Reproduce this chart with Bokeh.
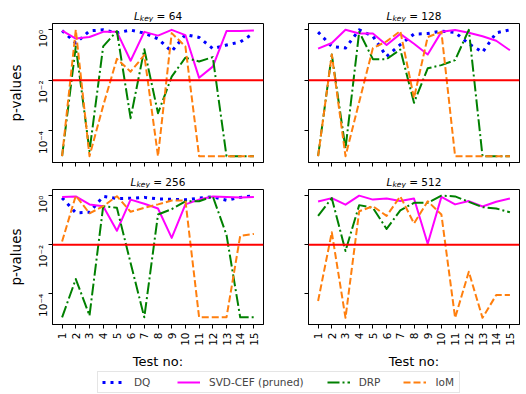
import math
from bokeh.plotting import figure
from bokeh.models import (FixedTicker, CustomJSTickFormatter, Span, Label, Legend,
                          LegendItem, ColumnDataSource, Range1d)
from bokeh.layouts import column, row
from bokeh.embed import file_html
from bokeh.resources import INLINE

tests = list(range(1, 16))
key_lengths = [64, 128, 256, 512]
threshold = 0.01
y_ticks = [1e-4, 1e-2, 1.0]

# ---- L_key = 64 ----
dq_64 = [0.93, 0.30, 0.91, 1.0, 0.76, 0.98, 0.74, 0.44, 0.14, 0.65, 0.50, 0.18, 0.25, 0.33, 0.74]
svd_64 = [0.93, 0.45, 0.52, 0.83, 0.83, 0.06, 0.83, 0.59, 1.0, 0.62, 0.0126, 0.035, 0.89, 0.89, 0.93]
drp_64 = [1e-5, 0.22, 1.6e-5, 0.22, 0.89, 3.2e-4, 0.17, 5e-4, 0.014, 0.079, 0.056, 0.083, 1e-5, 1e-5, 1e-5]
iom_64 = [1e-5, 1.0, 1e-5, 1e-3, 0.071, 0.022, 0.1, 1e-5, 0.74, 0.22, 1e-5, 1e-5, 1e-5, 1e-5, 1e-5]

# ---- L_key = 128 ----
dq_128 = [0.81, 0.22, 0.19, 1.0, 0.56, 0.089, 0.26, 0.68, 0.71, 0.89, 0.79, 0.28, 0.13, 0.76, 1.0]
svd_128 = [0.18, 0.30, 1.0, 0.71, 0.71, 0.25, 0.69, 0.28, 0.105, 0.83, 0.98, 0.76, 0.56, 0.37, 0.155]
drp_128 = [1e-5, 0.105, 2e-5, 0.83, 0.069, 0.069, 0.166, 1.3e-3, 0.03, 0.04, 0.063, 1.0, 1e-5, 1e-5, 1e-5]
iom_128 = [1e-5, 0.105, 1e-5, 1.4e-3, 0.19, 0.35, 0.89, 2e-3, 0.52, 0.83, 1e-5, 1e-5, 1e-5, 1e-5, 1e-5]

# ---- L_key = 256 ----
dq_256 = [0.81, 0.20, 0.21, 0.93, 0.76, 0.78, 0.85, 0.74, 0.71, 0.68, 0.79, 0.89, 0.65, 0.85, 1.0]
svd_256 = [0.89, 0.93, 0.44, 0.37, 0.037, 0.69, 0.47, 0.30, 0.019, 0.44, 0.69, 0.93, 0.89, 0.83, 0.89]
drp_256 = [1.1e-5, 4e-4, 1.3e-5, 0.37, 0.32, 1.8e-3, 1.1e-5, 0.17, 0.28, 0.59, 0.59, 0.93, 0.025, 1.1e-5, 1.1e-5]
iom_256 = [0.0135, 1.0, 0.19, 0.37, 0.95, 0.22, 0.32, 0.44, 0.63, 0.63, 1.1e-5, 1.1e-5, 1.1e-5, 0.023, 0.0275]

# ---- L_key = 512 ---- (no DQ results)
dq_512 = []
svd_512 = [0.58, 0.79, 0.43, 1.0, 0.69, 0.76, 0.60, 0.76, 0.011, 0.89, 0.44, 0.60, 0.36, 0.56, 0.76]
drp_512 = [0.15, 0.79, 5.6e-3, 0.41, 0.32, 0.044, 0.25, 0.51, 0.51, 1.0, 0.93, 0.56, 0.34, 0.30, 0.21]
iom_512 = [5.1e-5, 0.032, 1.05e-5, 0.23, 0.37, 0.15, 0.93, 0.074, 0.59, 0.17, 1.05e-5, 7.9e-4, 1.05e-5, 8.9e-5, 8.9e-5]

series_names = ["DQ", "SVD-CEF (pruned)", "DRP", "IoM"]
colors = ["blue", "magenta", "green", "#ff7f0e"]
dashes = ["3 5", "solid", "12 3 2 3", "7 3"]
widths = [3, 2, 2, 2]

FONT = "DejaVu Sans"

ylab_fmt = CustomJSTickFormatter(code="""
const e = Math.round(Math.log10(tick));
const m = {"0": "10\u2070", "-2": "10\u207b\u00b2", "-4": "10\u207b\u2074"};
return m[String(e)] ?? "";
""")
empty_fmt = CustomJSTickFormatter(code="return '';")

COLS = [dict(bl=52, fw=211, br=22), dict(bl=23, fw=211, br=7)]


def blank_fig(w, h):
    f = figure(width=w, height=h, output_backend="svg", toolbar_location=None,
               min_border=0, x_range=Range1d(0, w), y_range=Range1d(0, h),
               x_axis_location=None, y_axis_location=None)
    f.grid.visible = False
    f.outline_line_color = None
    return f


def title_strip(key, col, h):
    c = COLS[col]
    w = c["bl"] + c["fw"] + c["br"]
    f = blank_fig(w, h)
    fs, sub = 10.5, 7.5
    w_L = 0.56 * fs
    w_key = 1.79 * sub
    w_sp = 0.318 * fs
    w_rest = (0.318 + 0.838 + 0.318 + 0.636 * len(str(key))) * fs
    x0 = c["bl"] + c["fw"] / 2.0 - (w_L + w_key + w_rest) / 2.0
    common = dict(text_font=FONT, text_baseline="alphabetic", text_align="left",
                  text_color="black")
    f.add_layout(Label(x=x0, y=7, text="L", text_font_size="%.1fpx" % fs,
                       text_font_style="italic", **common))
    f.add_layout(Label(x=x0 + w_L, y=4.5, text="key", text_font_size="%.1fpx" % sub,
                       text_font_style="italic", **common))
    f.add_layout(Label(x=x0 + w_L + w_key + w_sp, y=7, text="= %d" % key,
                       text_font_size="%.1fpx" % fs, **common))
    return f


def make_panel(dq, svd, drp, iom, top, col):
    c = COLS[col]
    fh = 139 if top else 138
    bt = 1
    bb = 10 if top else 44
    p = figure(width=c["bl"] + c["fw"] + c["br"], height=bt + fh + bb, y_axis_type="log",
               x_range=Range1d(0.3, 15.7), y_range=Range1d(10 ** -5.25, 10 ** 0.25),
               output_backend="svg", toolbar_location=None,
               min_border_left=c["bl"], min_border_right=c["br"],
               min_border_top=bt, min_border_bottom=bb)
    p.grid.visible = False
    p.outline_line_color = "black"
    p.outline_line_alpha = 1.0
    p.outline_line_width = 1
    for ax in (p.xaxis[0], p.yaxis[0]):
        ax.axis_line_color = "black"
        ax.major_tick_out = 4
        ax.major_tick_in = 0
        ax.minor_tick_out = 0
        ax.minor_tick_in = 0
        ax.major_tick_line_color = "black"
        ax.major_label_text_font = FONT
        ax.major_label_text_font_size = "10.5px"
        ax.major_label_text_color = "black"
        ax.axis_label_text_font = FONT
        ax.axis_label_text_font_style = "normal"
        ax.axis_label_text_color = "black"
    p.xaxis.ticker = FixedTicker(ticks=tests, minor_ticks=[])
    p.yaxis.ticker = FixedTicker(ticks=y_ticks, minor_ticks=[])
    p.xaxis.major_label_orientation = math.pi / 2
    p.yaxis.major_label_orientation = math.pi / 2
    p.xaxis.major_label_standoff = 4
    p.yaxis.major_label_standoff = 5
    if col == 0:
        p.yaxis.formatter = ylab_fmt
        p.yaxis.axis_label = "p-values"
        p.yaxis.axis_label_text_font_size = "13.5px"
        p.yaxis.axis_label_standoff = 5
    else:
        p.yaxis.formatter = empty_fmt
        p.yaxis.major_label_text_font_size = "1px"
    if top:
        p.xaxis.formatter = empty_fmt
        p.xaxis.major_label_text_font_size = "1px"
    else:
        p.xaxis.axis_label = "Test no:"
        p.xaxis.axis_label_text_font_size = "13px"
        p.xaxis.axis_label_standoff = 5

    for vals, clr, d, w in zip([dq, svd, drp, iom], colors, dashes, widths):
        if not vals:
            continue
        src = ColumnDataSource(dict(x=tests[:len(vals)], y=vals))
        p.line("x", "y", source=src, line_color=clr, line_dash=d, line_width=w,
               line_join="round")
    p.add_layout(Span(location=threshold, dimension="width", line_color="red", line_width=2))
    return p


t1 = title_strip(key_lengths[0], 0, 22)
t2 = title_strip(key_lengths[1], 1, 22)
p1 = make_panel(dq_64, svd_64, drp_64, iom_64, True, 0)
p2 = make_panel(dq_128, svd_128, drp_128, iom_128, True, 1)
t3 = title_strip(key_lengths[2], 0, 16)
t4 = title_strip(key_lengths[3], 1, 16)
p3 = make_panel(dq_256, svd_256, drp_256, iom_256, False, 0)
p4 = make_panel(dq_512, svd_512, drp_512, iom_512, False, 1)

# legend strip
lf = blank_fig(526, 23)
items = []
for name, clr, d, w in zip(series_names, colors, dashes, widths):
    r = lf.line("x", "y", source=ColumnDataSource(dict(x=[-100, -90], y=[-100, -90])),
                line_color=clr, line_dash=d, line_width=w)
    items.append(LegendItem(label=name, renderers=[r]))
leg = Legend(items=items, orientation="horizontal", location=(97, 1),
             glyph_width=23, glyph_height=12, label_standoff=9, spacing=23, padding=4,
             label_text_font=FONT, label_text_font_size="10.5px",
             border_line_color="#cccccc", border_line_width=1,
             background_fill_color="white", background_fill_alpha=0.8,
             margin=0)
lf.add_layout(leg)

layout = column(row(t1, t2, spacing=0), row(p1, p2, spacing=0),
                row(t3, t4, spacing=0), row(p3, p4, spacing=0), lf, spacing=0)

open("out.html", "w").write(file_html(layout, INLINE))
